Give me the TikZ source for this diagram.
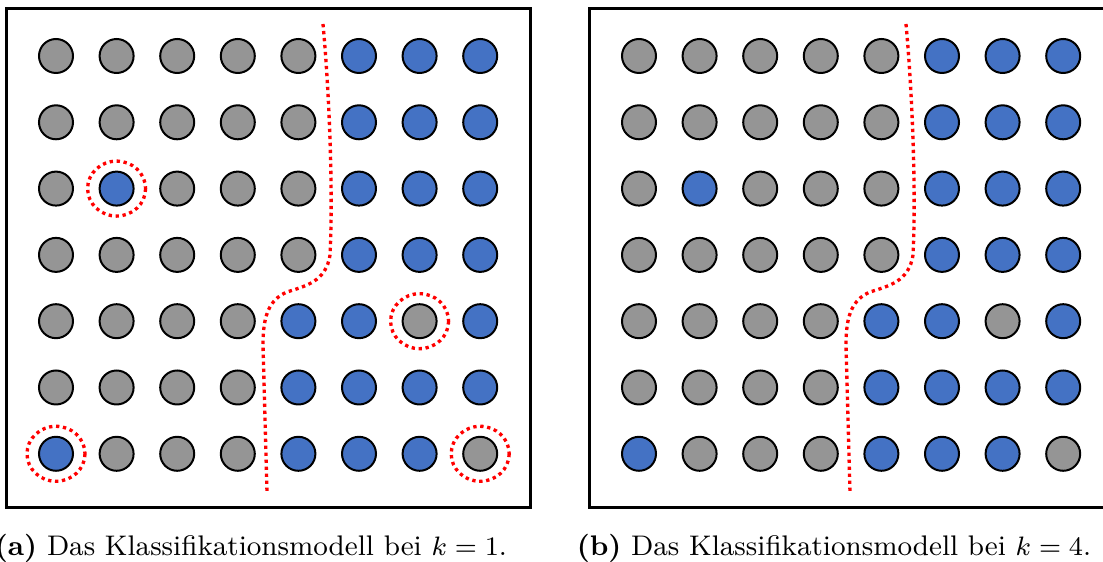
\documentclass[tikz,border=0pt]{standalone}
\usepackage{xcolor}
\usepackage{tikz}
\usetikzlibrary{
  positioning,
  calc
}
\definecolor{KnnBlue}{HTML}{4472C4}
\definecolor{KnnGray}{HTML}{959595}
\definecolor{KnnRed}{HTML}{FF0000}
\tikzset{
  sample/.style={circle,draw=black,line width=0.6pt,minimum size=10.2pt,inner sep=0pt},
  cls-g/.style={fill=KnnGray},
  cls-b/.style={fill=KnnBlue},
  frame/.style={draw=black,line width=0.9pt},
  boundary/.style={draw=KnnRed,line width=1pt,dash pattern=on 1pt off 1.1pt},
  misfit/.style={draw=KnnRed,line width=1pt,dash pattern=on 1pt off 1.1pt},
  caption/.style={anchor=base,inner sep=0pt,font=\fontsize{8.5}{10}\selectfont}
}

\begin{document}
\begin{tikzpicture}[x=0.3pt,y=-0.3pt]
  \useasboundingbox (0,0) rectangle (1103,562);
  \foreach \p/\dx in {a/0,b/583}{
    \draw[frame] (6.7+\dx,8.5) rectangle (530+\dx,508);
    \foreach \line [count=\r] in {
        {g,g,g,g,g,b,b,b},
        {g,g,g,g,g,b,b,b},
        {g,b,g,g,g,b,b,b},
        {g,g,g,g,g,b,b,b},
        {g,g,g,g,b,b,g,b},
        {g,g,g,g,b,b,b,b},
        {b,g,g,g,b,b,b,g}}{
      \foreach \c [count=\k] in \line{
        \node[sample,cls-\c] (\p-\r-\k) at ({56+\dx+60.6*(\k-1)},{56+66.3*(\r-1)}) {};
      }
    }
    \draw[boundary] (323+\dx,24) .. controls (330+\dx,100) and (333+\dx,200) .. (330+\dx,255)
      .. controls (326+\dx,282) and (305+\dx,286) .. (287+\dx,292)
      .. controls (268+\dx,300) and (263+\dx,318) .. (263+\dx,345)
      -- (267+\dx,492);
  }
  \foreach \n in {a-3-2,a-5-7,a-7-1,a-7-8}{
    \draw[misfit] (\n.center) circle[x radius=29,y radius=27.5];
  }
  \node[caption] (cap-a) at (251,556) {\textbf{(a)} Das Klassifikationsmodell bei $k = 1$.};
  \node[caption] (cap-b) at (834,556) {\textbf{(b)} Das Klassifikationsmodell bei $k = 4$.};
\end{tikzpicture}
\end{document}
